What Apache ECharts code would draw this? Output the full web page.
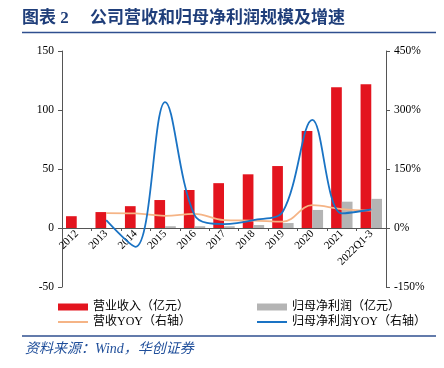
<!DOCTYPE html>
<html><head><meta charset="utf-8">
<script src="https://cdn.jsdelivr.net/npm/echarts@6/dist/echarts.min.js"></script>
<style>html,body{margin:0;padding:0;background:#fff}#c{width:444px;height:368px}</style>
</head><body><div id="c"></div>
<script>
var categories = ['2012','2013','2014','2015','2016','2017','2018','2019','2020','2021','2022Q1-3'];
var revenue = [10, 13.5, 18.5, 23.7, 32.2, 38, 45.5, 52.5, 82.2, 119.2, 121.8];
var netProfit = [0, 0, 0, 1.5, 1.5, 1.5, 2.5, 4.2, 15.3, 22.3, 24.7];
var revenueYoy = [null, 38, 37, 31, 36, 20, 19, 16, 58, 48, 44];
var profitYoy = [null, 20, -48, 320, 33, 10, 20, 42, 275, 37, 47];
var leftTicks = {min: -50, max: 150, interval: 50};
var rightTicks = {min: -150, max: 450, interval: 150};

var serif = '"Liberation Serif", "Times New Roman", "Noto Sans CJK SC", serif';
var cjk = '"Liberation Serif", "Noto Sans CJK SC", serif';
var legendText = {fontSize: 12, fontFamily: cjk, color: '#000'};
var chart = echarts.init(document.getElementById('c'));
chart.setOption({
  animation: false,
  graphic: [
    {type: 'text', left: 22, top: 10, style: {text: '图表 2', fontSize: 17, fontWeight: 'bold', fill: '#1F3E7A', fontFamily: cjk}},
    {type: 'text', left: 90, top: 10, style: {text: '公司营收和归母净利润规模及增速', fontSize: 17, fontWeight: 'bold', fill: '#1F3E7A', fontFamily: cjk}},
    {type: 'line', shape: {x1: 22, y1: 32.5, x2: 436, y2: 32.5}, style: {stroke: '#2F4F8F', lineWidth: 1.5}},
    {type: 'line', shape: {x1: 22, y1: 336, x2: 436, y2: 336}, style: {stroke: '#2F4F8F', lineWidth: 1.5}},
    {type: 'text', left: 25, top: 342, style: {text: '资料来源：Wind，华创证券', fontSize: 14, fontStyle: 'italic', fill: '#1F4E9A', fontFamily: cjk}}
  ],
  legend: [
    {left: 53, top: 296, itemWidth: 30, itemHeight: 7, icon: 'rect', textStyle: legendText, data: ['营业收入（亿元）']},
    {left: 252, top: 296, itemWidth: 30, itemHeight: 7, icon: 'rect', textStyle: legendText, data: ['归母净利润（亿元）']},
    {left: 53, top: 311, itemWidth: 30, itemHeight: 2, icon: 'rect', textStyle: legendText, data: ['营收YOY（右轴）']},
    {left: 252, top: 311, itemWidth: 30, itemHeight: 2, icon: 'rect', textStyle: legendText, data: ['归母净利润YOY（右轴）']}
  ],
  grid: {left: 62, right: 58, top: 51, bottom: 81},
  xAxis: {
    type: 'category', data: categories, offset: -59,
    axisLine: {onZero: false, lineStyle: {color: '#555', width: 1}},
    axisTick: {show: true, length: 3, lineStyle: {color: '#555'}},
    axisLabel: {rotate: 45, fontSize: 11, color: '#000', fontFamily: serif, margin: 4, interval: 0}
  },
  yAxis: [
    {type: 'value', min: leftTicks.min, max: leftTicks.max, interval: leftTicks.interval,
     splitLine: {show: false},
     axisLine: {show: true, lineStyle: {color: '#555'}},
     axisTick: {show: true, length: 4, lineStyle: {color: '#555'}},
     axisLabel: {fontSize: 11.5, color: '#000', fontFamily: serif, margin: 8}},
    {type: 'value', min: rightTicks.min, max: rightTicks.max, interval: rightTicks.interval,
     splitLine: {show: false},
     axisLine: {show: true, lineStyle: {color: '#555'}},
     axisTick: {show: true, length: 4, lineStyle: {color: '#555'}},
     axisLabel: {fontSize: 11.5, color: '#000', fontFamily: serif, margin: 8, formatter: '{value}%'}}
  ],
  series: [
    {name: '营业收入（亿元）', type: 'bar', data: revenue, barWidth: 10.7, barGap: '0%',
     itemStyle: {color: '#E3141E'}},
    {name: '归母净利润（亿元）', type: 'bar', data: netProfit, barWidth: 10.7, barGap: '0%',
     itemStyle: {color: '#B4B4B4'}},
    {name: '营收YOY（右轴）', type: 'line', yAxisIndex: 1, data: revenueYoy, smooth: 0.4,
     symbol: 'none', lineStyle: {color: '#F5B486', width: 1.8}, itemStyle: {color: '#F5B486'}},
    {name: '归母净利润YOY（右轴）', type: 'line', yAxisIndex: 1, data: profitYoy, smooth: 0.35,
     symbol: 'none', lineStyle: {color: '#1A73C4', width: 1.8}, itemStyle: {color: '#1A73C4'}}
  ]
});
</script></body></html>
